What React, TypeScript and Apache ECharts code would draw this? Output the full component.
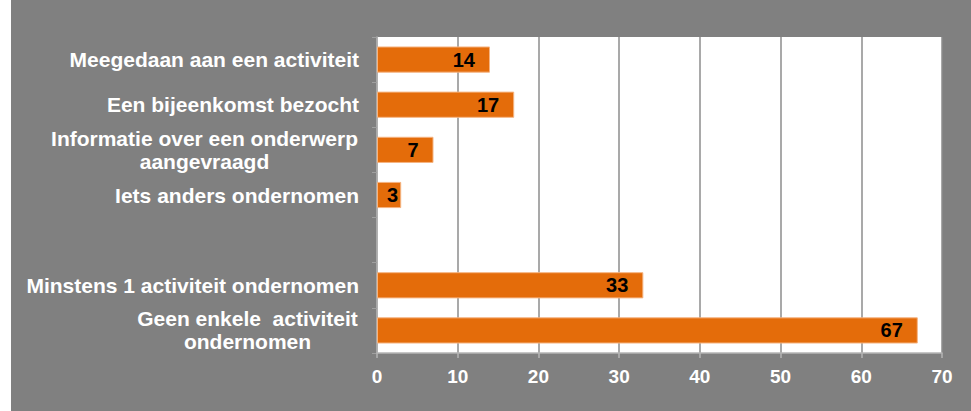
import React, { useEffect, useRef } from "react";
import * as echarts from "echarts";

const categories = [
  "Meegedaan aan een activiteit",
  "Een bijeenkomst bezocht",
  "Informatie over een onderwerp\naangevraagd",
  "Iets anders ondernomen",
  "",
  "Minstens 1 activiteit ondernomen",
  "Geen enkele  activiteit\nondernomen",
];
const values: (number | null)[] = [14, 17, 7, 3, null, 33, 67];
const xMin = 0;
const xMax = 70;
const xInterval = 10;

const FONT = '"Liberation Sans", Arial, sans-serif';
const CAT_FONT = FONT;
const CAT_FS = 21;

function measure(s: string, fs: number): number {
  const c = document.createElement("canvas").getContext("2d");
  if (!c) return s.length * fs * 0.6;
  c.font = `bold ${fs}px ${CAT_FONT}`;
  return c.measureText(s).width;
}

export default function App() {
  const ref = useRef<HTMLDivElement>(null);
  useEffect(() => {
    if (!ref.current) return;
    const chart = echarts.init(ref.current, undefined, { renderer: "svg" });

    const rich: Record<string, any> = {};
    categories.forEach((c, i) => {
      if (c.includes("\n")) {
        const w = Math.max(...c.split("\n").map((l) => measure(l, CAT_FS)));
        rich["c" + i] = {
          width: Math.ceil(w) + 2,
          align: "center",
          fontSize: CAT_FS,
          fontWeight: "bold",
          fontFamily: CAT_FONT,
          color: "#ffffff",
          lineHeight: 23,
        };
      }
    });

    chart.setOption({
      animation: false,
      backgroundColor: "transparent",
      graphic: [
        {
          type: "rect",
          silent: true,
          z: -10,
          shape: { x: 11, y: 0, width: 960, height: 411 },
          style: { fill: "#808080" },
        },
      ],
      grid: {
        left: 377,
        top: 37,
        right: 29,
        bottom: 58,
        show: true,
        backgroundColor: "#ffffff",
        borderWidth: 0,
      },
      xAxis: {
        type: "value",
        min: xMin,
        max: xMax,
        interval: xInterval,
        axisLine: { show: true, lineStyle: { color: "#b5b5b5", width: 1.5 } },
        axisTick: { show: true, length: 5, lineStyle: { color: "#b5b5b5", width: 1.5 } },
        splitLine: { show: true, lineStyle: { color: "#8c8c8c", width: 1.5 } },
        axisLabel: {
          color: "#ffffff",
          fontWeight: "bold",
          fontSize: 19,
          fontFamily: FONT,
          margin: 14,
        },
      },
      yAxis: {
        type: "category",
        inverse: true,
        data: categories,
        axisLine: { show: true, lineStyle: { color: "#b5b5b5", width: 1.5 } },
        axisTick: { show: true, length: 5, lineStyle: { color: "#a0a0a0", width: 1 } },
        axisLabel: {
          color: "#ffffff",
          fontWeight: "bold",
          fontSize: CAT_FS,
          fontFamily: CAT_FONT,
          margin: 18,
          lineHeight: 23,
          rich,
          formatter: (v: string, i: number) => {
            if (!v.includes("\n")) return v;
            return v
              .split("\n")
              .map((l) => `{c${i}|${l}}`)
              .join("\n");
          },
        },
      },
      series: [
        {
          type: "bar",
          barCategoryGap: "42%",
          data: values.map((v) =>
            v === null
              ? "-"
              : v < 5
              ? { value: v, label: { position: "insideLeft", distance: 10 } }
              : v
          ),
          itemStyle: { color: "#E46C0A", borderColor: "#F5B482", borderWidth: 1 },
          label: {
            show: true,
            position: "insideRight",
            distance: 15,
            color: "#000000",
            fontWeight: "bold",
            fontSize: 20,
            fontFamily: FONT,
          },
        },
      ],
    });
    return () => chart.dispose();
  }, []);
  return (
    <div
      ref={ref}
      style={{ position: "fixed", left: 0, top: 0, width: 971, height: 411, background: "#ffffff" }}
    />
  );
}
